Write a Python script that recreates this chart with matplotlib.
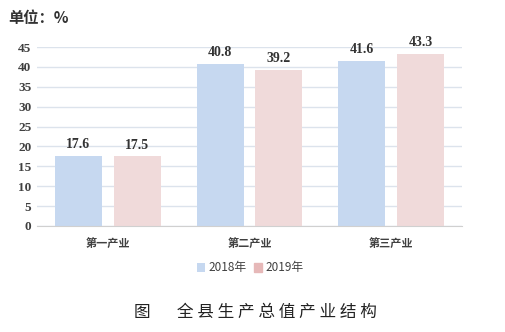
import matplotlib.pyplot as plt
import numpy as np

categories = ['第一产业', '第二产业', '第三产业']
years = ['2018年', '2019年']
values_2018 = [17.6, 40.8, 41.6]
values_2019 = [17.5, 39.2, 43.3]
yticks = [0, 5, 10, 15, 20, 25, 30, 35, 40, 45]

cjk = ['Noto Sans CJK SC', 'DejaVu Sans']
serif = ['Liberation Serif', 'Noto Sans CJK SC']

fig = plt.figure(figsize=(5.05, 3.32), dpi=100)
ax = fig.add_axes([37 / 505, 1 - 226 / 332, 425 / 505, 179 / 332])

x = np.arange(len(categories))
w = 0.33
off = 0.207
b1 = ax.bar(x - off, values_2018, w, color='#C6D8F0', label=years[0], zorder=2)
b2 = ax.bar(x + off, values_2019, w, color='#F0DADA', label=years[1], zorder=2)

for bars, vals in [(b1, values_2018), (b2, values_2019)]:
    for r, v in zip(bars, vals):
        ax.text(r.get_x() + r.get_width() / 2, v + 1.2, f'{v:.1f}', ha='center', va='bottom',
                fontsize=10, fontweight='bold', family=serif, color='#333333')

ax.set_xlim(-0.5, 2.5)
ax.set_ylim(0, 45)
ax.set_yticks(yticks)
ax.set_yticklabels([str(t) for t in yticks], family=serif, fontweight='bold', fontsize=9.5, color='#404040')
ax.set_xticks(x)
ax.set_xticklabels(categories, family=cjk, fontsize=8, fontweight='bold', color='#404040')
ax.tick_params(axis='both', length=0, pad=8)
ax.tick_params(axis='y', pad=4)
ax.grid(axis='y', color='#DCE3EC', linewidth=1, zorder=0)
for s in ['top', 'right', 'left']:
    ax.spines[s].set_visible(False)
ax.spines['bottom'].set_color('#D0D0D0')

fig.text(8 / 505, 1 - 18 / 332, '单位：%', family=cjk, fontsize=11, color='#333333',
         va='center', fontweight='bold')

leg = fig.legend(handles=[b1, b2], loc='center', bbox_to_anchor=(250 / 505, 1 - 268 / 332),
                 ncol=2, frameon=False, handlelength=0.7, handleheight=0.7,
                 handletextpad=0.3, columnspacing=0.6, prop={'family': cjk, 'size': 8.5})
leg.legend_handles[1].set_color('#E6B8B8')
for t in leg.get_texts():
    t.set_color('#404040')

title = '图' + ' ' * 7 + ' '.join('全县生产总值产业结构')
fig.text(255 / 505, 1 - 312 / 332, title, family=cjk, fontsize=12,
         ha='center', va='center', color='#222222', fontweight='light')

fig.savefig('out.png', dpi=100)
